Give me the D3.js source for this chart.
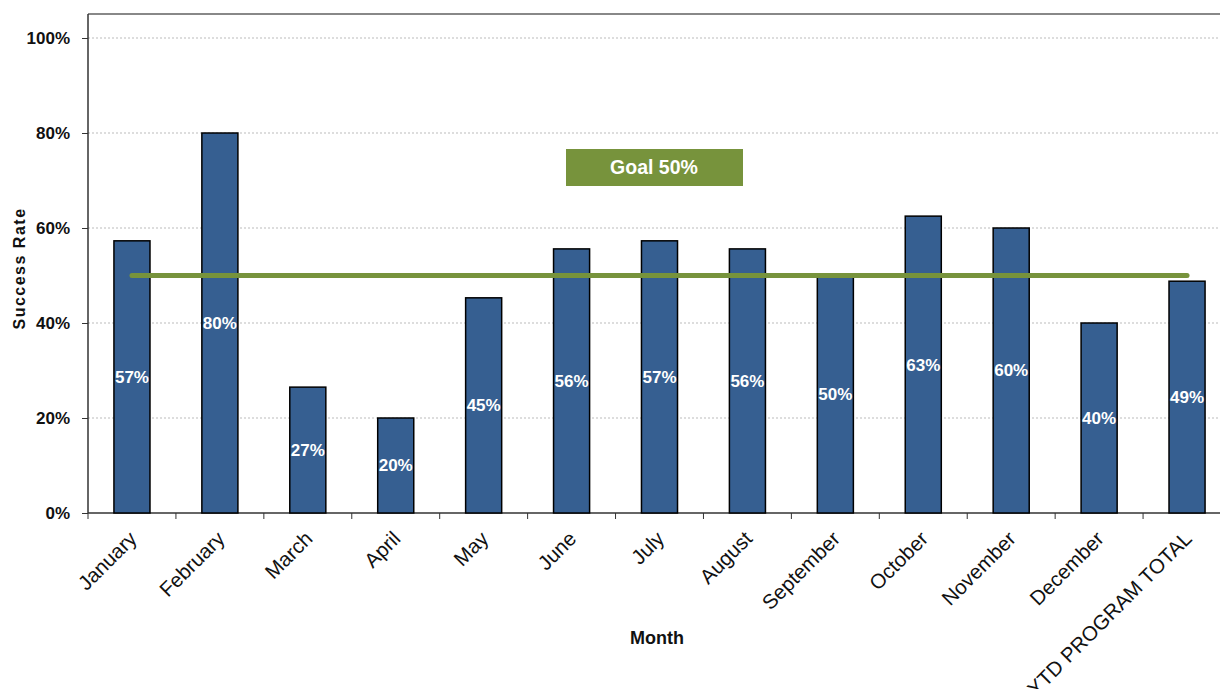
<!DOCTYPE html>
<html>
<head>
<meta charset="utf-8">
<script src="https://cdn.jsdelivr.net/npm/d3@7"></script>
<style>
  body { margin: 0; background: #fff; }
  svg { font-family: "Liberation Sans", Arial, sans-serif; }
</style>
</head>
<body>
<div id="chart"></div>
<script>
// chart data
const months = ['January', 'February', 'March', 'April', 'May', 'June', 'July',
  'August', 'September', 'October', 'November', 'December', 'YTD PROGRAM TOTAL']
const successRate = [0.573, 0.80, 0.265, 0.20, 0.453, 0.556, 0.573, 0.556, 0.50, 0.625, 0.60, 0.40, 0.488]
const goalValue = 0.5
const goalLabel = 'Goal 50%'
const yTicks = [0, 0.2, 0.4, 0.6, 0.8, 1.0]

const width = 1220
const height = 689
const margin = { left: 88, top: 14, right: -11, bottom: 176 }  // plot runs off the right edge like the original

const svg = d3.select('#chart').append('svg')
  .attr('width', width)
  .attr('height', height)

const x = d3.scaleBand()
  .domain(months)
  .range([margin.left, width - margin.right])
  .paddingInner(0.59)
  .paddingOuter(0.295)

const y = d3.scaleLinear()
  .domain([0, 1])
  .range([height - margin.bottom, 38])

const plotBottom = y(0)

// grid lines
svg.append('g')
  .selectAll('line')
  .data(yTicks.filter(d => d > 0))
  .join('line')
    .attr('x1', margin.left)
    .attr('x2', width - margin.right)
    .attr('y1', d => y(d))
    .attr('y2', d => y(d))
    .attr('stroke', '#bbb')
    .attr('stroke-width', 1)
    .attr('stroke-dasharray', '2,2')

// top border of plot
svg.append('line')
  .attr('x1', margin.left).attr('x2', width)
  .attr('y1', margin.top).attr('y2', margin.top)
  .attr('stroke', '#888').attr('stroke-width', 2)

// y axis
const yAxis = svg.append('g')
  .attr('transform', `translate(${margin.left},0)`)
  .call(d3.axisLeft(y).tickValues(yTicks).tickFormat(d3.format('.0%')).tickSize(6).tickPadding(12))
yAxis.select('.domain').remove()
yAxis.append('line')
  .attr('y1', margin.top).attr('y2', plotBottom)
  .attr('stroke', '#333').attr('stroke-width', 1.5)
yAxis.selectAll('.tick line').attr('stroke', '#333')
yAxis.selectAll('text')
  .attr('font-size', 17)
  .attr('font-weight', 'bold')
  .attr('fill', '#111')
  .attr('font-family', '"Liberation Sans", Arial, sans-serif')

// x axis: ticks sit at category boundaries
const step = x.step()
const bounds = d3.range(months.length + 1).map(i => margin.left + i * step)
svg.append('line')
  .attr('x1', margin.left).attr('x2', width)
  .attr('y1', plotBottom).attr('y2', plotBottom)
  .attr('stroke', '#333').attr('stroke-width', 1.5)
svg.append('g')
  .selectAll('line')
  .data(bounds)
  .join('line')
    .attr('x1', d => d).attr('x2', d => d)
    .attr('y1', plotBottom).attr('y2', plotBottom + 6)
    .attr('stroke', '#333')

svg.append('g')
  .selectAll('text')
  .data(months)
  .join('text')
    .attr('transform', d => `translate(${x(d) + x.bandwidth() / 2 + 6},${plotBottom + 27}) rotate(-45)`)
    .attr('text-anchor', 'end')
    .attr('font-size', 20.5)
    .attr('fill', '#111')
    .text(d => d)

// bars
svg.append('g')
  .selectAll('rect')
  .data(months)
  .join('rect')
    .attr('x', d => x(d))
    .attr('y', (d, i) => y(successRate[i]))
    .attr('width', x.bandwidth())
    .attr('height', (d, i) => plotBottom - y(successRate[i]))
    .attr('fill', '#365F91')
    .attr('stroke', '#000')
    .attr('stroke-width', 1.5)

// bar labels
svg.append('g')
  .selectAll('text')
  .data(months)
  .join('text')
    .attr('x', d => x(d) + x.bandwidth() / 2)
    .attr('y', (d, i) => (y(successRate[i]) + plotBottom) / 2)
    .attr('dy', '0.35em')
    .attr('text-anchor', 'middle')
    .attr('font-size', 17)
    .attr('font-weight', 'bold')
    .attr('fill', '#fff')
    .text((d, i) => d3.format('.0%')(successRate[i]))

// goal line
svg.append('line')
  .attr('x1', x(months[0]) + x.bandwidth() / 2)
  .attr('x2', x(months[months.length - 1]) + x.bandwidth() / 2)
  .attr('y1', y(goalValue))
  .attr('y2', y(goalValue))
  .attr('stroke', '#77933C')
  .attr('stroke-width', 5)
  .attr('stroke-linecap', 'round')

// goal box
const goalBox = svg.append('g').attr('transform', 'translate(566,149)')
goalBox.append('rect')
  .attr('width', 177).attr('height', 37)
  .attr('fill', '#77933C')
goalBox.append('text')
  .attr('x', 88).attr('y', 18)
  .attr('dy', '0.35em')
  .attr('text-anchor', 'middle')
  .attr('font-size', 19.5)
  .attr('font-weight', 'bold')
  .attr('fill', '#fff')
  .text(goalLabel)

// axis titles
svg.append('text')
  .attr('transform', `translate(25,${(margin.top + plotBottom) / 2 + 5}) rotate(-90)`)
  .attr('text-anchor', 'middle')
  .attr('font-size', 16)
  .attr('font-weight', 'bold')
  .attr('letter-spacing', 1.5)
  .attr('fill', '#111')
  .text('Success Rate')

svg.append('text')
  .attr('x', 657)
  .attr('y', 644)
  .attr('text-anchor', 'middle')
  .attr('font-size', 18)
  .attr('font-weight', 'bold')
  .attr('fill', '#111')
  .text('Month')
</script>
</body>
</html>
